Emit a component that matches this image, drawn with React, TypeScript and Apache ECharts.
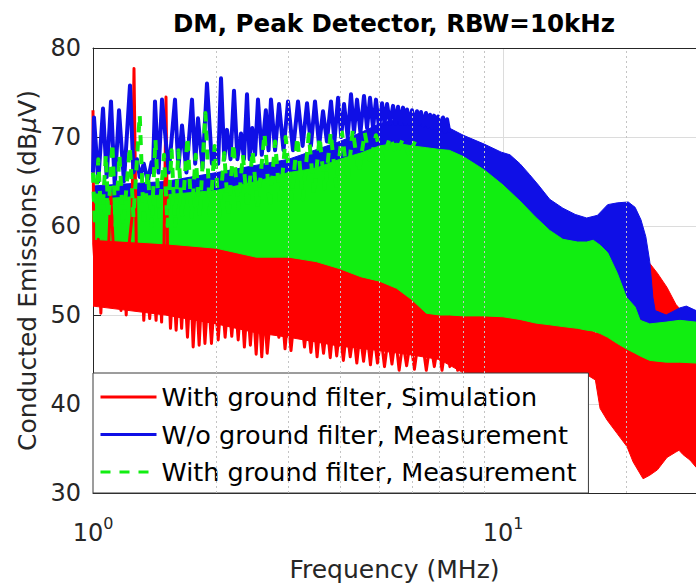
import React, { useEffect, useRef } from "react";
import * as echarts from "echarts";

// ---- Envelope (solid body) of each trace: frequency (MHz), lower / upper level (dBµV)
const redBandF = [1.0, 1.5, 2.0, 2.5, 3.0, 4.0, 5.0, 6.0, 7.0, 8.0, 10, 12, 14, 16, 16.8, 17.25, 17.94, 18.97, 20.07, 20.76, 21.96, 22.8, 23.8, 25.12, 26.4, 26.87, 27.5, 28.58, 29.56];
const redBandLo = [51, 50, 49, 48, 47.5, 46.5, 46, 45.5, 45, 43.5, 43.3, 43.3, 43.3, 43.3, 42.7, 39.5, 38.2, 36.7, 35.2, 33.5, 31.6, 32, 32.6, 34, 34.6, 34.8, 34.3, 33.7, 32.9];
const redBandHi = [59, 58.5, 58, 57.5, 57, 55.5, 54, 53, 52, 51, 50.5, 49.5, 49, 48.5, 48, 48, 48.5, 50, 52, 53.5, 55, 55.8, 54.7, 53.1, 51.2, 50.8, 50.3, 50, 49.8];

const blueBandF = [1.0, 1.5, 2.0, 3.0, 4.0, 4.5, 5.0, 5.5, 6.0, 7.0, 7.4, 8.0, 9.0, 9.9, 10.4, 11.0, 11.6, 12.2, 13.0, 14.0, 15, 16, 17, 18, 19, 20.2, 21, 21.7, 22.3, 22.8, 23.2, 23.5, 25, 27, 28, 29.56];
const blueBandLo = [60, 60, 60, 60, 60, 60, 59.5, 59, 58.5, 58, 58, 57.5, 57, 57, 56.5, 56, 55.5, 55, 54.5, 54, 54, 53.5, 53, 52.5, 52, 51, 50, 49.5, 49, 48.5, 48, 48, 48, 48, 48, 48];
const blueBandHi = [64.5, 65, 66, 67.5, 69.5, 70.5, 71.5, 72, 72, 71.5, 71, 70.2, 69.2, 68.3, 68, 67, 65.8, 64.6, 63, 62, 61.3, 60.9, 61.2, 62.4, 62.6, 62.7, 62.1, 60.7, 58.8, 56, 52, 50.5, 50, 50.8, 51, 50.5];

const greenBandF = [1.0, 1.5, 2.0, 2.5, 3.0, 3.5, 4.0, 4.5, 5.0, 5.5, 6.0, 6.5, 7.0, 7.4, 8.0, 9.0, 10, 11, 12, 13, 14, 15.2, 16, 16.6, 17.3, 18, 19, 20, 21, 21.6, 22.8, 25, 27, 29.56];
const greenBandLo = [58.5, 58, 57.5, 56.5, 56.5, 56, 55.2, 54.3, 53.8, 53, 51.7, 50.2, 50, 50, 49.9, 49.9, 49.8, 49.5, 49.1, 48.9, 48.7, 48.5, 48.3, 48.2, 47.9, 47.5, 46.8, 46.2, 45.7, 45.4, 44.9, 44.7, 44.7, 44.6];
const greenBandHi = [63, 63.5, 64, 65, 66, 66.5, 67.5, 68.2, 69, 69.3, 69, 68.8, 68.6, 68.5, 67.8, 66.3, 64.6, 62.8, 61, 59.5, 58.5, 58.2, 58.2, 58.4, 57.8, 57, 54.7, 52, 50.9, 49.4, 49, 49.2, 49.4, 49.2];

// ---- Harmonic peaks / troughs: [frequency MHz, level dBµV]
const redSpikes: [number, number][] = [
  [1.0, 73.0], [1.004, 58], [1.015, 54.5], [1.03, 58.5], [1.045, 50.2], [1.06, 56], [1.075, 51.3], [1.09, 57], [1.105, 63.7], [1.12, 58],
  [1.135, 51], [1.155, 57], [1.17, 50.5], [1.19, 56], [1.205, 50], [1.225, 58], [1.245, 61], [1.2589, 77.7], [1.275, 58], [1.29, 52.8],
  [1.31, 57], [1.33, 49.4], [1.35, 55], [1.375, 49.6], [1.4, 55], [1.425, 49.4], [1.45, 56], [1.47, 49.2], [1.49, 58], [1.5068, 74.5],
  [1.52, 57], [1.545, 48.5], [1.57, 54], [1.595, 48.3], [1.62, 54], [1.645, 48.5], [1.67, 54], [1.7, 47.5], [1.73, 54], [1.755, 46.4],
  [1.785, 53], [1.815, 46.6], [1.845, 53], [1.875, 46.8], [1.91, 52.5], [1.945, 46.8], [1.98, 52], [2.02, 47.2], [2.06, 52.5], [2.1, 47.5],
  [2.14, 52], [2.18, 47.6], [2.22, 52], [2.26, 47.2], [2.3, 52], [2.34, 46.4], [2.38, 51.5], [2.42, 46.6], [2.46, 51], [2.5, 45.6],
  [2.54, 51], [2.58, 45.3], [2.62, 50.5], [2.66, 45.7], [2.71, 50], [2.75, 49.4], [2.79, 50], [2.84, 47.5], [2.89, 50.5], [2.94, 46.2],
  [2.99, 50], [3.04, 46], [3.1, 50], [3.16, 49.4], [3.22, 50], [3.28, 46.4], [3.34, 49.5], [3.4, 45.8], [3.46, 49.5], [3.52, 45.3],
  [3.58, 49], [3.65, 45.7], [3.72, 49], [3.79, 45.2], [3.86, 49], [3.93, 45.4], [4.0, 48.5], [4.08, 44.9], [4.16, 48.5], [4.24, 45.3],
  [4.32, 48], [4.4, 44.6], [4.48, 48], [4.57, 44.8], [4.66, 48], [4.75, 44.4], [4.84, 48], [4.94, 44.6], [5.04, 47.5], [5.14, 44.2],
  [5.25, 47.5], [5.36, 44.5], [5.47, 47.5], [5.58, 43.8], [5.7, 47], [5.82, 44.3], [5.95, 47.2], [6.08, 43.9], [6.21, 47], [6.35, 47.2],
  [6.5, 43.8], [6.65, 47], [6.8, 44.2], [6.95, 47], [7.1, 43.8], [7.26, 47], [7.42, 44.2], [7.58, 47], [7.75, 43.8], [7.92, 47],
  [8.1, 44.3], [8.3, 46.8], [8.5, 44], [8.7, 46.8], [8.9, 44.2], [9.1, 46.5],
];

const blueSpikes: [number, number][] = [
  [1.0, 66], [1.0056, 72.2], [1.03, 65], [1.0578, 73.2], [1.08, 65.5], [1.1063, 74.0], [1.13, 64.5], [1.1573, 73.0], [1.19, 65], [1.2309, 75.8],
  [1.255, 66], [1.28, 67.5], [1.3, 65.5], [1.33, 67], [1.36, 65], [1.39, 67.2], [1.4, 66], [1.4165, 74.0], [1.445, 66], [1.4734, 74.2],
  [1.53, 66], [1.5849, 74.2], [1.615, 66.5], [1.6485, 71.3], [1.69, 66], [1.7437, 74.2], [1.775, 67], [1.8034, 72.1], [1.85, 66.5], [1.8967, 76.0],
  [1.95, 67], [1.99, 68.5], [2.02, 67], [2.0522, 76.6], [2.09, 67.5], [2.1222, 70.8], [2.165, 67.5], [2.2075, 75.2], [2.25, 67.5], [2.2961, 70.4],
  [2.335, 67.5], [2.3747, 74.8], [2.41, 67.5], [2.4457, 71], [2.485, 68], [2.5258, 74.2], [2.58, 68], [2.64, 73], [2.68, 68.5], [2.717, 74.2],
  [2.78, 68.5], [2.8425, 73.7], [2.915, 68.5], [2.9897, 74.0], [3.075, 68.5], [3.1623, 74.0], [3.245, 69], [3.3266, 73.8], [3.4, 69], [3.479, 74.0],
  [3.56, 69], [3.639, 72.9], [3.72, 69.5], [3.806, 74.0], [3.88, 69.5], [3.96, 74.4], [4.03, 70], [4.095, 73.7], [4.18, 70], [4.259, 74.8],
  [4.33, 70.5], [4.405, 74.2], [4.49, 70.5], [4.581, 74.6], [4.66, 71], [4.738, 74.4], [4.82, 71], [4.9, 74.2], [4.985, 71], [5.07, 73.8],
  [5.14, 71.5], [5.214, 73.7], [5.3, 71.5], [5.393, 73.5], [5.47, 71.5], [5.546, 73.4], [5.62, 71.5], [5.703, 73.3], [5.77, 71.5], [5.833, 73.1],
  [5.91, 71.5], [5.998, 73.0], [6.08, 71.5], [6.169, 72.9], [6.24, 71.5], [6.31, 72.8], [6.4, 71.3], [6.489, 72.7], [6.56, 71.2], [6.637, 72.5],
  [6.71, 71], [6.787, 72.4], [6.86, 71], [6.942, 72.3], [7.04, 70.8], [7.14, 72.2], [7.22, 70.6], [7.302, 72.0], [7.4, 70.5],
];

const greenSpikes: [number, number][] = [
  [1.0, 66], [1.01, 60], [1.03, 67.5], [1.05, 60], [1.075, 68], [1.09, 61], [1.115, 69.3], [1.135, 60], [1.16, 68], [1.185, 60],
  [1.23, 68.9], [1.255, 61], [1.3, 72.5], [1.33, 60], [1.36, 66], [1.39, 60], [1.42, 69.7], [1.45, 61], [1.49, 68], [1.52, 60],
  [1.555, 68.5], [1.585, 60], [1.615, 68.5], [1.65, 61], [1.7, 70], [1.74, 61], [1.78, 68], [1.82, 61], [1.88, 72.7], [1.93, 61],
  [1.98, 69], [2.03, 61], [2.09, 68.2], [2.14, 61], [2.2, 69.3], [2.26, 62], [2.32, 68], [2.38, 62], [2.45, 68.5], [2.52, 62],
  [2.62, 70.4], [2.7, 62], [2.78, 69.5], [2.86, 62.5], [2.95, 70], [3.05, 63], [3.15, 70], [3.25, 63], [3.36, 70.3], [3.46, 63.5],
  [3.57, 70], [3.68, 64], [3.8, 70.5], [3.92, 64.5], [4.05, 70.5], [4.18, 65], [4.3, 70.8], [4.45, 66], [4.6, 70.5], [4.75, 67],
  [4.9, 70.2], [5.1, 67.5], [5.3, 70], [5.5, 68], [5.7, 69.8], [5.9, 68], [6.1, 69.5],
];

const seriesNames = [
  "With ground filter, Simulation",
  "W/o ground filter, Measurement",
  "With ground filter, Measurement",
];
const minorGridF = [2, 3, 4, 5, 6, 7, 8, 9, 20];
const xMin = 1;
const xMax = 29.56;
const yMin = 30;
const yMax = 80;
const yStep = 10;

const RED = "#ff0000";
const BLUE = "#0f0fe6";
const GREEN = "#11ee11";
const FONT = "DejaVu Sans";

function band(name: string, F: number[], Lo: number[], Hi: number[], color: string, z: number) {
  const data = F.map((f, i) => [f, Lo[i], Hi[i]]);
  return {
    type: "custom",
    name,
    data,
    z,
    silent: true,
    clip: true,
    encode: { x: 0, y: [1, 2] },
    renderItem: (params: any, api: any) => {
      if (params.dataIndex !== 0) return null;
      const top = data.map((d) => api.coord([d[0], d[2]]));
      const bot = data.map((d) => api.coord([d[0], d[1]])).reverse();
      return {
        type: "polygon",
        shape: { points: top.concat(bot) },
        style: { fill: color, stroke: color, lineWidth: 1 },
      };
    },
  };
}

function spikes(name: string, pts: [number, number][], color: string, z: number, width: number, dash?: number[]) {
  return {
    type: "line",
    name,
    data: pts,
    z,
    symbol: "none",
    showSymbol: false,
    silent: true,
    clip: true,
    color,
    lineStyle: { color, width, type: dash ? dash : "solid", join: "round" },
  };
}

export default function App() {
  const ref = useRef<HTMLDivElement>(null);
  useEffect(() => {
    if (!ref.current) return;
    const chart = echarts.init(ref.current, undefined, { renderer: "svg" });
    const option: any = {
      animation: false,
      backgroundColor: "#ffffff",
      title: {
        text: "DM, Peak Detector, RBW=10kHz",
        left: 168,
        top: 6,
        textStyle: { fontFamily: FONT, fontWeight: "bold", fontSize: 24.5, color: "#000" },
      },
      grid: { left: 93, right: 0, top: 48, bottom: 95 },
      legend: {
        data: seriesNames,
        orient: "vertical",
        left: 93,
        bottom: 95,
        itemWidth: 56,
        itemHeight: 14,
        itemGap: 7.5,
        padding: [9, 12, 6, 6],
        backgroundColor: "#ffffff",
        borderColor: "#3a3a3a",
        borderWidth: 1,
        borderRadius: 0,
        lineStyle: { width: 3 },
        itemStyle: { opacity: 0, color: "transparent", borderWidth: 0 },
        textStyle: { fontFamily: FONT, fontSize: 25.5, color: "#000", lineHeight: 30 },
        selectedMode: false,
      },
      xAxis: [
        {
          type: "log",
          logBase: 10,
          min: xMin,
          max: xMax,
          axisLine: { show: true, lineStyle: { color: "#262626", width: 1 } },
          axisTick: { show: true, inside: true, length: 8, lineStyle: { color: "#262626" } },
          axisLabel: {
            margin: 22,
            color: "#262626",
            fontFamily: FONT,
            showMaxLabel: false,
            formatter: (v: number) => {
              const e = Math.log10(v);
              if (Math.abs(e - Math.round(e)) > 1e-6) return "";
              return `{b|10}{s|${Math.round(e)}}`;
            },
            rich: {
              b: { fontSize: 24, fontFamily: FONT, color: "#262626", lineHeight: 30, verticalAlign: "bottom" },
              s: { fontSize: 16, fontFamily: FONT, color: "#262626", lineHeight: 12, verticalAlign: "top" },
            },
          },
          splitLine: { show: true, lineStyle: { color: "#dcdcdc", width: 1 } },
          name: "Frequency (MHz)",
          nameLocation: "middle",
          nameGap: 64,
          nameTextStyle: { fontFamily: FONT, fontSize: 25, color: "#262626" },
        },
        {
          type: "log",
          logBase: 10,
          min: xMin,
          max: xMax,
          position: "top",
          axisLine: { show: true, lineStyle: { color: "#262626", width: 1 } },
          axisTick: { show: false },
          axisLabel: { show: false },
          splitLine: { show: false },
        },
      ],
      yAxis: {
        type: "value",
        min: yMin,
        max: yMax,
        interval: yStep,
        axisLine: { show: true, lineStyle: { color: "#262626", width: 1 } },
        axisTick: { show: true, inside: true, length: 8, lineStyle: { color: "#262626" } },
        axisLabel: { fontFamily: FONT, fontSize: 24, color: "#262626", margin: 12 },
        splitLine: { show: true, lineStyle: { color: "#dcdcdc", width: 1 } },
        name: "Conducted Emissions (dB{i|μ}V)",
        nameLocation: "middle",
        nameGap: 48,
        nameTextStyle: {
          fontFamily: FONT,
          fontSize: 25,
          color: "#262626",
          rich: { i: { fontFamily: FONT, fontSize: 25, fontStyle: "italic", color: "#262626" } },
        },
      },
      series: [
        {
          type: "line",
          name: "grid",
          data: [[xMin, yMin]],
          symbol: "none",
          z: 1,
          silent: true,
          lineStyle: { width: 0 },
          markLine: {
            silent: true,
            symbol: ["none", "none"],
            label: { show: false },
            lineStyle: { color: "#c4c4c4", type: [2, 3], width: 1 },
            data: minorGridF.map((v) => ({ xAxis: v })),
          },
        },
        band("redBand", redBandF, redBandLo, redBandHi, RED, 2),
        spikes(seriesNames[0], redSpikes, RED, 2, 3),
        band("blueBand", blueBandF, blueBandLo, blueBandHi, BLUE, 2),
        spikes(seriesNames[1], blueSpikes, BLUE, 2, 4),
        band("greenBand", greenBandF, greenBandLo, greenBandHi, GREEN, 2),
        spikes(seriesNames[2], greenSpikes, GREEN, 2, 4, [10, 9]),
      ],
    };
    chart.setOption(option);
    return () => chart.dispose();
  }, []);
  return (
    <div
      ref={ref}
      style={{ position: "fixed", left: 0, top: 0, width: 696, height: 588, background: "#fff" }}
    />
  );
}
